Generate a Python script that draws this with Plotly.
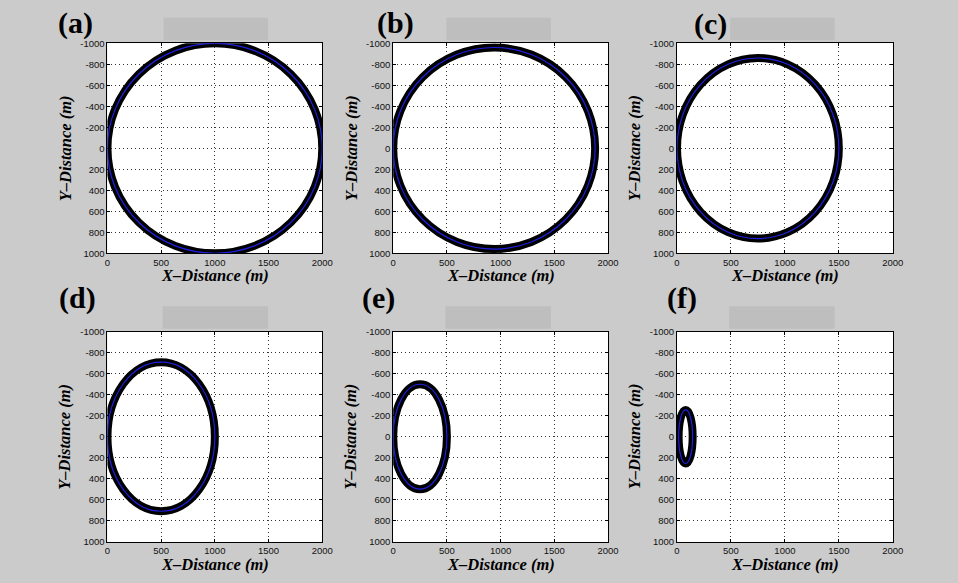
import plotly.graph_objects as go

# Orbit parameters for each panel (metres): centre x, semi-axis in x, semi-axis in y
panel_labels = ["(a)", "(b)", "(c)", "(d)", "(e)", "(f)"]
center_x = [1000, 940, 750, 500, 250, 80]
center_y = [0, 0, 0, 0, 0, 0]
radius_x = [1000, 940, 750, 500, 250, 65]
radius_y = [1000, 960, 860, 710, 500, 255]

x_ticks = [0, 500, 1000, 1500, 2000]
y_ticks = [-1000, -800, -600, -400, -200, 0, 200, 400, 600, 800, 1000]

W, H = 958, 583
col_left = [106, 396, 684]
col_right = [324, 614, 903]
row_top = [38, 332]
row_bottom = [252, 546]
label_pos = [(74, 17), (398, 17), (718, 18), (76, 298), (381, 298), (689, 298)]
box_x = [(163, 269), (450, 556), (738, 844)]
box_y = [(12, 35), (306, 329)]

BG = "#cbcbcb"
px = lambda v: v / W
py = lambda v: 1 - v / H

fig = go.Figure()
shapes = []
annotations = []

tick_font = dict(family="Liberation Sans, Arial, sans-serif", size=9.5, color="#111111")
title_font = dict(family="Liberation Serif, Times New Roman, serif", size=16.5, color="black")

for i in range(6):
    r, c = divmod(i, 3)
    n = "" if i == 0 else str(i + 1)
    xa, ya = "xaxis" + n, "yaxis" + n
    xr, yr = "x" + n, "y" + n

    # invisible anchor trace so each axis pair is instantiated
    fig.add_trace(go.Scatter(x=[center_x[i]], y=[center_y[i]], mode="markers",
                             marker=dict(opacity=0), hoverinfo="skip",
                             showlegend=False, xaxis=xr, yaxis=yr))

    common = dict(showline=True, linecolor="black", linewidth=1, mirror="ticks",
                  ticks="inside", ticklen=3, tickcolor="black", tickwidth=1,
                  showgrid=True, gridcolor="#333333", gridwidth=1,
                  griddash="1px,3px", zeroline=False, tickfont=tick_font)
    fig.layout[xa] = dict(common, domain=[px(col_left[c]), px(col_right[c])],
                          anchor=yr, range=[0, 2000], tickvals=x_ticks,
                          ticktext=[str(v) for v in x_ticks], ticklabelstandoff=0)
    fig.layout[ya] = dict(common, domain=[py(row_bottom[r]), py(row_top[r])],
                          anchor=xr, range=[1000, -1000], tickvals=y_ticks,
                          ticktext=[("-" if v < 0 else "") + str(abs(v)) for v in y_ticks],
                          ticklabelstandoff=0)

    x0 = center_x[i] - radius_x[i]
    x1 = center_x[i] + radius_x[i]
    y0 = center_y[i] - radius_y[i]
    y1 = center_y[i] + radius_y[i]
    # thick dark track with the blue path drawn on top
    shapes.append(dict(type="circle", xref=xr, yref=yr, x0=x0, x1=x1, y0=y0, y1=y1,
                       line=dict(color="black", width=8), layer="above"))
    shapes.append(dict(type="circle", xref=xr, yref=yr, x0=x0, x1=x1, y0=y0, y1=y1,
                       line=dict(color="#1f1fe0", width=1.2), layer="above"))

    # plot area background
    shapes.append(dict(type="rect", xref="paper", yref="paper",
                       x0=px(col_left[c]), x1=px(col_right[c]),
                       y0=py(row_bottom[r]), y1=py(row_top[r]),
                       fillcolor="white", line=dict(width=0), layer="below"))
    # title placeholder strip above each panel
    bx0, bx1 = box_x[c]
    by0, by1 = box_y[r]
    shapes.append(dict(type="rect", xref="paper", yref="paper",
                       x0=px(bx0 - (1 if r == 1 else 0)), x1=px(bx1),
                       y0=py(by1), y1=py(by0),
                       fillcolor="#bebebe", line=dict(width=0), layer="below"))

    lx, ly = label_pos[i]
    annotations.append(dict(text="<b>" + panel_labels[i] + "</b>", x=px(lx), y=py(ly),
                            xref="paper", yref="paper", showarrow=False,
                            xanchor="center", yanchor="middle",
                            font=dict(family="Liberation Serif, Times New Roman, serif",
                                      size=30, color="black")))
    mid_x = (col_left[c] + col_right[c]) / 2
    annotations.append(dict(text="<b><i>X\u2013Distance (m)</i></b>", x=px(mid_x),
                            y=py(row_bottom[r] + 23), xref="paper", yref="paper",
                            showarrow=False, xanchor="center", yanchor="middle",
                            font=title_font))
    mid_y = (row_top[r] + row_bottom[r]) / 2
    annotations.append(dict(text="<b><i>Y\u2013Distance (m)</i></b>", x=px(col_left[c] - 43),
                            y=py(mid_y), xref="paper", yref="paper", textangle=-90,
                            showarrow=False, xanchor="center", yanchor="middle",
                            font=title_font))

fig.update_layout(width=W, height=H, margin=dict(l=0, r=0, t=0, b=0),
                  paper_bgcolor=BG, plot_bgcolor="white",
                  shapes=shapes, annotations=annotations, showlegend=False)

fig.write_html("out.html")
